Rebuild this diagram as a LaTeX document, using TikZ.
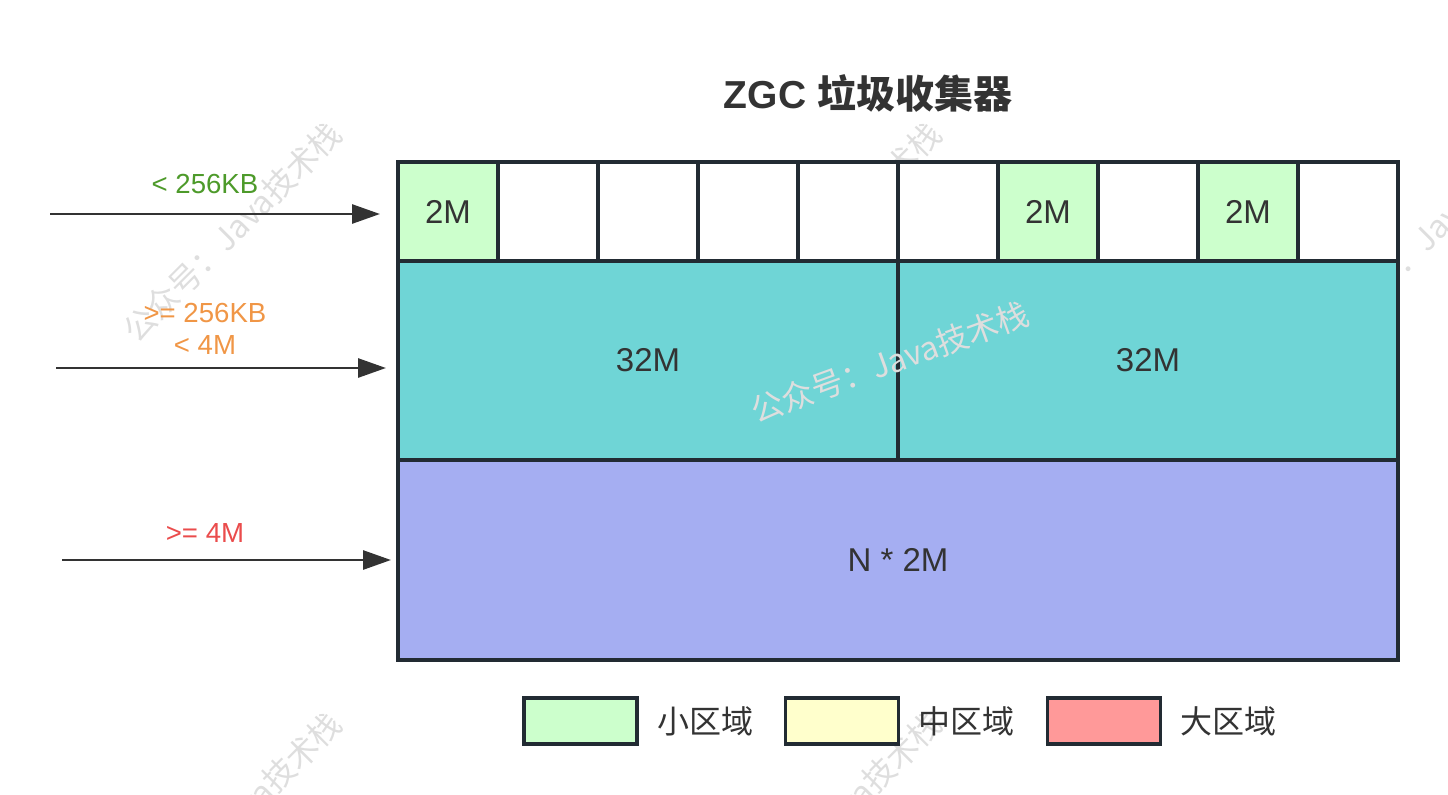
\documentclass[tikz,border=0pt]{standalone}
\usepackage{fontspec}
\setmainfont{Liberation Sans}
\newfontfamily\cjk{Noto Sans CJK SC}
\usepackage{tikz}
\usetikzlibrary{arrows.meta}
\usetikzlibrary{positioning}
\definecolor{edge}{RGB}{34,43,51}
\definecolor{ink}{RGB}{51,51,51}
\definecolor{smallzone}{RGB}{204,255,204}
\definecolor{midzone}{RGB}{255,255,204}
\definecolor{largezone}{RGB}{255,153,153}
\definecolor{halfzone}{RGB}{111,213,214}
\definecolor{wholezone}{RGB}{165,174,242}
\definecolor{limgreen}{RGB}{77,154,42}
\definecolor{limorange}{RGB}{240,150,70}
\definecolor{limred}{RGB}{234,76,76}
\definecolor{wmgray}{RGB}{222,222,222}
\newcommand\regioncell[5]{\node[cell, fill=#4] (#5) at (#1,#2) {#3};}
\newcommand\legendkey[4]{\node[key, fill=#3] (#4) at (#1,#2) {};}
\newcommand\wmtext{公众号：Java技术栈}

\begin{document}
\begin{tikzpicture}[x=0.5pt,y=-0.5pt,
  cell/.style={draw=edge, line width=1.75pt, minimum width=50pt, minimum height=49.5pt, inner sep=0pt, text=ink, font=\fontsize{16.5}{19}\selectfont},
  key/.style={draw=edge, line width=1.75pt, minimum width=56.5pt, minimum height=23pt, inner sep=0pt},
  keytext/.style={right=9pt of #1, inner sep=0pt, text=ink, font=\cjk\fontsize{16}{19}\selectfont},
  limit/.style={anchor=base, inner sep=0pt, font=\fontsize{13.8}{16}\selectfont},
  feed/.style={-{Triangle[length=14pt,width=9.5pt]}, line width=1.4pt, draw=ink},
  wm/.style={text=wmgray, font=\cjk\fontsize{16}{19}\selectfont, inner sep=0pt}]
\useasboundingbox (0,0) rectangle (1448,794);
\clip (0,0) rectangle (1448,794);

% watermarks behind
\node[wm, rotate=45] (wm1) at (232,232) {\wmtext};
\node[wm, rotate=45] (wm2) at (832,232) {\wmtext};
\node[wm, rotate=45] (wm3) at (1432,232) {\wmtext};
\node[wm, rotate=45] (wm4) at (232,822) {\wmtext};
\node[wm, rotate=45] (wm5) at (832,822) {\wmtext};

\node[anchor=base, text=ink, font=\bfseries\fontsize{19.5}{23}\selectfont] (title) at (868,108) {ZGC {\cjk 垃圾收集器}};

% small regions
\regioncell{448}{211.5}{2M}{smallzone}{c0}
\regioncell{548}{211.5}{}{white}{c1}
\regioncell{648}{211.5}{}{white}{c2}
\regioncell{748}{211.5}{}{white}{c3}
\regioncell{848}{211.5}{}{white}{c4}
\regioncell{948}{211.5}{}{white}{c5}
\regioncell{1048}{211.5}{2M}{smallzone}{c6}
\regioncell{1148}{211.5}{}{white}{c7}
\regioncell{1248}{211.5}{2M}{smallzone}{c8}
\regioncell{1348}{211.5}{}{white}{c9}

% medium and large regions
\node[cell, fill=halfzone, minimum width=250pt, minimum height=99.5pt] (half1) at (648,360.5) {32M};
\node[cell, fill=halfzone, minimum width=250pt, minimum height=99.5pt] (half2) at (1148,360.5) {32M};
\node[cell, fill=wholezone, minimum width=500pt, minimum height=100pt] (whole) at (898,560) {N * 2M};

% allocation sizes
\coordinate (in1) at (50,214);
\coordinate (to1) at (380,214);
\coordinate (in2) at (56,368);
\coordinate (to2) at (386,368);
\coordinate (in3) at (62,560);
\coordinate (to3) at (391,560);
\draw[feed] (in1) -- (to1);
\draw[feed] (in2) -- (to2);
\draw[feed] (in3) -- (to3);
\node[limit, text=limgreen] (lim1) at (205,193) {< 256KB};
\node[limit, text=limorange] (lim2) at (205,322) {>= 256KB};
\node[limit, text=limorange] (lim3) at (205,354) {< 4M};
\node[limit, text=limred] (lim4) at (205,542) {>= 4M};

% legend
\legendkey{580.5}{721}{smallzone}{k1}
\legendkey{842}{721}{midzone}{k2}
\legendkey{1104}{721}{largezone}{k3}
\node[keytext=k1] (t1) {小区域};
\node[keytext=k2] (t2) {中区域};
\node[keytext=k3] (t3) {大区域};

% watermark on top
\node[wm, rotate=20] (wm0) at (890,362) {\wmtext};
\end{tikzpicture}
\end{document}
